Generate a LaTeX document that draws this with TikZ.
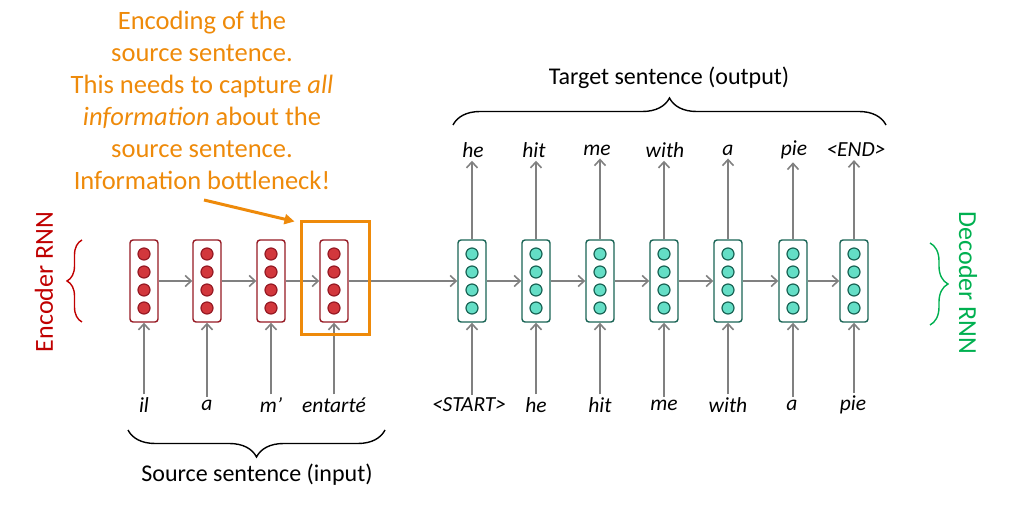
\documentclass[tikz,border=0pt]{standalone}
\usepackage{fontspec}
\setmainfont{Carlito}
\usetikzlibrary{positioning,arrows.meta,decorations.pathreplacing,calc}
\usepackage{xcolor}
\definecolor{encedge}{RGB}{150,25,35}
\definecolor{encfill}{RGB}{210,55,60}
\definecolor{decedge}{RGB}{25,100,85}
\definecolor{decfill}{RGB}{100,222,198}
\definecolor{arrgray}{RGB}{128,128,128}
\definecolor{noteorange}{RGB}{238,138,10}
\definecolor{encred}{RGB}{192,0,0}
\definecolor{decgreen}{RGB}{0,176,80}

\begin{document}
\begin{tikzpicture}[x=1pt, y=-1pt,
  cell/.style={draw, rounded corners=3pt, minimum width=28pt, minimum height=82pt, line width=1.4pt, fill=white},
  enc/.style={cell, draw=encedge},
  dec/.style={cell, draw=decedge},
  unit/.style={circle, line width=1.2pt, minimum size=12pt, inner sep=0pt},
  word/.style={font=\fontsize{21.5}{24}\selectfont\itshape, inner sep=3pt},
  title/.style={font=\fontsize{24}{28}\selectfont},
  side/.style={font=\fontsize{26}{30}\selectfont},
  arr/.style={-{Straight Barb[length=6pt,width=11pt]}, line width=1.6pt, draw=arrgray},
  brc/.style={decorate, decoration={brace, amplitude=#1}, line width=1.4pt},
  note/.style={font=\fontsize{26.5}{32}\selectfont, text=noteorange, align=center}
]
  \useasboundingbox (0,0) rectangle (1013,521);

  % encoder
  \foreach \x [count=\i] in {144,207,271,334} {
    \node[enc] (e\i) at (\x,281) {};
    \foreach \dy [count=\k] in {-27,-9,9,27}
      \node[unit, draw=encedge, fill=encfill] (e\i u\k) at ($(e\i.center)+(0,\dy)$) {};
  }
  % decoder
  \foreach \x [count=\i] in {472,536,600,664,728,793,854} {
    \node[dec] (d\i) at (\x,281) {};
    \foreach \dy [count=\k] in {-27,-9,9,27}
      \node[unit, draw=decedge, fill=decfill] (d\i u\k) at ($(d\i.center)+(0,\dy)$) {};
  }

  % source words
  \node[word] (s1) at (144,405) {il};
  \node[word] (s2) at (207,405) {a};
  \node[word] (s3) at (271,405) {m’};
  \node[word] (s4) at (334,405) {entarté};
  % decoder inputs
  \node[word] (i1) at (469,405) {<START>};
  \node[word] (i2) at (536,405) {he};
  \node[word] (i3) at (600,405) {hit};
  \node[word] (i4) at (664,405) {me};
  \node[word] (i5) at (728,405) {with};
  \node[word] (i6) at (792,405) {a};
  \node[word] (i7) at (853,405) {pie};
  % decoder outputs
  \node[word] (o1) at (473,150) {he};
  \node[word] (o2) at (534,150) {hit};
  \node[word] (o3) at (597,150) {me};
  \node[word] (o4) at (665,150) {with};
  \node[word] (o5) at (728,150) {a};
  \node[word] (o6) at (794,150) {pie};
  \node[word] (o7) at (856,150) {<END>};

  \foreach \i in {1,...,4} \draw[arr] (s\i.north -| e\i) -- (e\i);
  \foreach \i in {1,...,7} {
    \draw[arr] (i\i.north -| d\i) -- (d\i);
    \draw[arr] (d\i) -- (o\i.south -| d\i);
  }
  \draw[arr] (e1) -- (e2); \draw[arr] (e2) -- (e3); \draw[arr] (e3) -- (e4);
  \draw[arr] (e4) -- (d1);
  \draw[arr] (d1) -- (d2); \draw[arr] (d2) -- (d3); \draw[arr] (d3) -- (d4);
  \draw[arr] (d4) -- (d5); \draw[arr] (d5) -- (d6); \draw[arr] (d6) -- (d7);

  % bottleneck
  \node[draw=noteorange, line width=3pt, minimum width=68pt, minimum height=113pt] (neck) at (335,278.5) {};
  \node[note] (why) at (202,100) {Encoding of the\\source sentence.\\This needs to capture \textit{all}\\\textit{information} about the\\source sentence.\\Information bottleneck!};
  \coordinate (tail) at (204,200);
  \draw[-{Triangle[length=10pt,width=10pt]}, line width=3pt, noteorange] (tail) -- ([xshift=-5pt,yshift=-1pt]neck.north west);

  % braces
  \draw[brc=27] (453,125) -- (886,125);
  \node[title] (tgt) at (669,78) {Target sentence (output)};
  \draw[brc=27] (385,430) -- (128,430);
  \node[title] (src) at (257,475) {Source sentence (input)};
  \draw[brc=15, encred] (82,322) -- (82,240);
  \node[side, text=encred, rotate=90] (encl) at (44,282) {Encoder RNN};
  \draw[brc=18, decgreen] (930,243) -- (930,325);
  \node[side, text=decgreen, rotate=-90] (decl) at (968,283) {Decoder RNN};
\end{tikzpicture}
\end{document}
